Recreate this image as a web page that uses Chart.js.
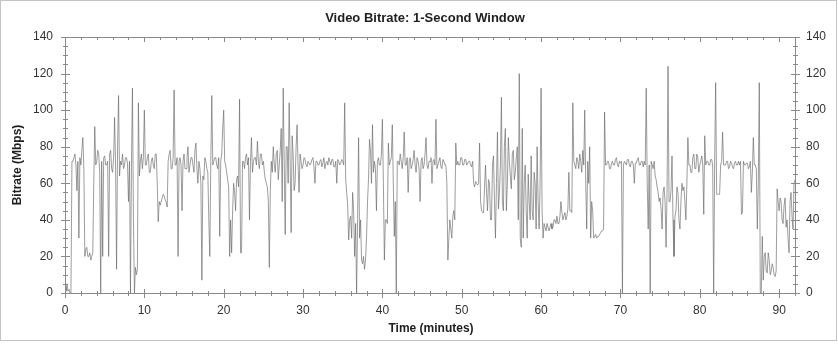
<!DOCTYPE html>
<html>
<head>
<meta charset="utf-8">
<script src="https://cdn.jsdelivr.net/npm/chart.js@4.4.0/dist/chart.umd.min.js"></script>
<style>
  html, body { margin: 0; padding: 0; background: #fff; }
</style>
</head>
<body>
<canvas id="myChart" width="838" height="350"></canvas>
<script>
var chartTitle = 'Video Bitrate: 1-Second Window';
var xTitle = 'Time (minutes)';
var yTitle = 'Bitrate (Mbps)';

var xTickValues = [0, 10, 20, 30, 40, 50, 60, 70, 80, 90];
var yTickValues = [0, 20, 40, 60, 80, 100, 120, 140];

// bitrate (Mbps), one row per minute, 8 readings per row (every 7.5 s)
var samplesPerMinute = 8;
var bitrateByMinute = [
  [3, 1, 5, 1, 2, 0, 0, 72],
  [72, 74, 76, 70, 56, 72, 30, 74],
  [70, 78, 85, 68, 20, 24, 25, 20],
  [20, 22, 18, 20, 22, 60, 91, 70],
  [72, 78, 76, 66, 0, 72, 20, 74],
  [75, 70, 70, 72, 20, 76, 78, 68],
  [66, 74, 96, 70, 13, 80, 108, 64],
  [72, 70, 76, 68, 70, 74, 74, 71],
  [50, 72, 0, 70, 112, 40, 0, 14],
  [10, 13, 104, 64, 72, 76, 68, 74],
  [100, 70, 70, 74, 76, 66, 66, 72],
  [74, 70, 68, 76, 76, 60, 39, 50],
  [48, 50, 52, 54, 53, 51, 50, 47],
  [72, 76, 78, 68, 68, 74, 111, 70],
  [70, 74, 20, 72, 74, 70, 45, 72],
  [76, 68, 68, 74, 80, 66, 70, 74],
  [74, 70, 66, 78, 82, 68, 60, 72],
  [68, 60, 7, 64, 62, 74, 72, 68],
  [66, 40, 20, 72, 108, 70, 72, 74],
  [74, 70, 68, 74, 31, 72, 76, 90],
  [100, 72, 70, 66, 62, 58, 20, 40],
  [22, 45, 60, 55, 45, 62, 64, 58],
  [106, 22, 22, 72, 72, 68, 74, 76],
  [70, 74, 40, 72, 85, 66, 72, 74],
  [74, 70, 83, 72, 68, 76, 76, 70],
  [72, 66, 62, 60, 58, 50, 14, 56],
  [72, 66, 80, 70, 66, 76, 78, 62],
  [70, 78, 90, 50, 112, 72, 32, 80],
  [80, 60, 104, 72, 33, 86, 76, 56],
  [60, 80, 92, 70, 55, 76, 72, 68],
  [70, 74, 73, 70, 69, 72, 72, 70],
  [71, 73, 74, 69, 60, 72, 72, 70],
  [70, 72, 73, 69, 71, 74, 68, 71],
  [72, 70, 74, 72, 70, 73, 73, 69],
  [69, 72, 60, 73, 72, 70, 71, 73],
  [72, 70, 104, 62, 55, 48, 29, 40],
  [42, 30, 55, 45, 20, 38, 0, 40],
  [85, 30, 40, 18, 16, 20, 13, 18],
  [30, 50, 62, 84, 78, 60, 92, 66],
  [72, 68, 45, 72, 74, 70, 70, 76],
  [95, 60, 18, 40, 40, 38, 82, 70],
  [72, 74, 92, 60, 31, 50, 0, 72],
  [72, 70, 76, 72, 68, 74, 88, 70],
  [70, 74, 55, 72, 74, 68, 70, 73],
  [78, 70, 66, 74, 72, 68, 50, 72],
  [74, 68, 70, 76, 85, 70, 68, 72],
  [72, 74, 60, 72, 73, 70, 95, 68],
  [70, 72, 74, 69, 68, 73, 72, 70],
  [70, 60, 18, 30, 40, 35, 30, 42],
  [45, 40, 82, 70, 72, 70, 70, 74],
  [74, 70, 70, 73, 73, 70, 71, 72],
  [72, 70, 69, 72, 60, 58, 61, 60],
  [59, 60, 82, 50, 45, 44, 44, 58],
  [70, 55, 45, 62, 60, 40, 40, 70],
  [75, 50, 30, 60, 88, 46, 55, 70],
  [107, 50, 45, 80, 90, 45, 60, 85],
  [72, 64, 57, 76, 78, 62, 66, 74],
  [80, 40, 120, 30, 25, 90, 30, 60],
  [70, 45, 30, 65, 50, 40, 75, 45],
  [40, 66, 60, 35, 80, 50, 35, 60],
  [112, 45, 30, 38, 36, 34, 38, 36],
  [34, 36, 38, 35, 36, 40, 40, 38],
  [42, 38, 38, 42, 50, 44, 40, 42],
  [44, 40, 42, 46, 66, 45, 45, 44],
  [104, 72, 70, 68, 74, 72, 68, 76],
  [72, 66, 78, 70, 100, 60, 35, 72],
  [60, 80, 30, 50, 45, 30, 31, 32],
  [30, 31, 31, 32, 33, 34, 34, 35],
  [99, 70, 70, 72, 72, 68, 68, 71],
  [72, 70, 70, 73, 74, 70, 69, 72],
  [71, 72, 0, 70, 72, 71, 70, 73],
  [73, 70, 69, 72, 72, 70, 60, 71],
  [71, 73, 74, 70, 70, 72, 72, 69],
  [72, 70, 112, 60, 35, 70, 0, 72],
  [70, 68, 72, 64, 62, 58, 55, 50],
  [52, 46, 35, 55, 58, 50, 25, 55],
  [124, 50, 50, 56, 75, 40, 20, 42],
  [45, 58, 55, 40, 35, 50, 60, 56],
  [58, 50, 40, 60, 85, 70, 70, 66],
  [66, 74, 76, 68, 68, 76, 74, 66],
  [70, 72, 75, 70, 43, 86, 70, 72],
  [72, 70, 70, 73, 73, 70, 0, 72],
  [115, 54, 54, 54, 54, 70, 72, 88],
  [70, 70, 70, 72, 72, 68, 69, 72],
  [71, 69, 68, 71, 72, 70, 70, 72],
  [70, 72, 43, 44, 72, 70, 70, 71],
  [71, 68, 69, 72, 55, 66, 85, 70],
  [70, 68, 35, 60, 115, 0, 0, 31],
  [7, 20, 22, 12, 11, 22, 18, 10],
  [12, 16, 14, 10, 9, 12, 57, 50],
  [45, 52, 50, 40, 38, 48, 52, 36],
  [40, 30, 22, 50, 55, 42, 35, 60],
  [62]
];

var points = [];
bitrateByMinute.forEach(function(row, m) {
  row.forEach(function(v, k) {
    points.push({ x: m + k / samplesPerMinute, y: v });
  });
});

var axisColor = '#8a8a8a';
var labelFont = { family: '"Liberation Sans", Arial, sans-serif', size: 12 };

// frame, tick marks and titles drawn on top of the chart
var decor = {
  id: 'decor',
  afterDraw: function(chart) {
    var ctx = chart.ctx, a = chart.chartArea;
    var xs = chart.scales.x, ys = chart.scales.y;
    ctx.save();
    ctx.strokeStyle = '#c4c4c4';
    ctx.lineWidth = 1;
    ctx.strokeRect(0.5, 0.5, 836, 340);

    ctx.strokeStyle = axisColor;
    ctx.strokeRect(a.left + 0.5, a.top + 0.5, a.right - a.left, a.bottom - a.top);

    ctx.beginPath();
    for (var v = 0; v <= 92; v += 2) {
      var px = Math.round(xs.getPixelForValue(v)) + 0.5;
      var len = (v % 10 === 0) ? 4 : 2;
      ctx.moveTo(px, a.bottom - len); ctx.lineTo(px, a.bottom + len + 1);
      ctx.moveTo(px, a.top); ctx.lineTo(px, a.top + len + 1);
    }
    for (var w = 0; w <= 140; w += 5) {
      var py = Math.round(ys.getPixelForValue(w)) + 0.5;
      var l2 = (w % 20 === 0) ? 4 : 2;
      ctx.moveTo(a.left - l2, py); ctx.lineTo(a.left + l2 + 1, py);
      ctx.moveTo(a.right - l2, py); ctx.lineTo(a.right + l2 + 1, py);
    }
    ctx.stroke();

    ctx.fillStyle = '#1e1e1e';
    ctx.textAlign = 'center';
    ctx.textBaseline = 'middle';
    ctx.font = 'bold 13px "Liberation Sans", Arial, sans-serif';
    ctx.fillText(chartTitle, 425, 18);
    ctx.font = 'bold 12px "Liberation Sans", Arial, sans-serif';
    ctx.fillText(xTitle, 431, 329);
    ctx.translate(18, 165);
    ctx.rotate(-Math.PI / 2);
    ctx.fillText(yTitle, 0, 0);
    ctx.restore();
  }
};

var yScale = function(pos, pad) {
  return {
    type: 'linear', position: pos, min: 0, max: 140,
    afterBuildTicks: function(s) { s.ticks = yTickValues.map(function(v) { return { value: v }; }); },
    afterFit: function(s) { s.width = pos === 'left' ? 65 : 838 - 795; },
    grid: { display: false, drawTicks: false },
    border: { display: false },
    ticks: { padding: pad, color: '#333', font: labelFont }
  };
};

new Chart(document.getElementById('myChart'), {
  type: 'line',
  data: {
    datasets: [{
      data: points,
      borderColor: 'rgba(105,105,105,0.65)',
      borderWidth: 1,
      pointRadius: 0,
      tension: 0,
      yAxisID: 'y'
    }]
  },
  options: {
    responsive: false,
    animation: false,
    parsing: false,
    layout: { padding: { top: 37, left: 0, right: 0, bottom: 0 } },
    plugins: { legend: { display: false }, title: { display: false }, tooltip: { enabled: false } },
    scales: {
      x: {
        type: 'linear', min: 0, max: 92,
        afterBuildTicks: function(s) { s.ticks = xTickValues.map(function(v) { return { value: v }; }); },
        afterFit: function(s) { s.height = 350 - 293; },
        grid: { display: false, drawTicks: false },
        border: { display: false },
        ticks: { padding: 10, color: '#333', font: labelFont, maxRotation: 0 }
      },
      y: yScale('left', 12),
      y2: yScale('right', 11)
    }
  },
  plugins: [decor]
});
</script>
</body>
</html>
